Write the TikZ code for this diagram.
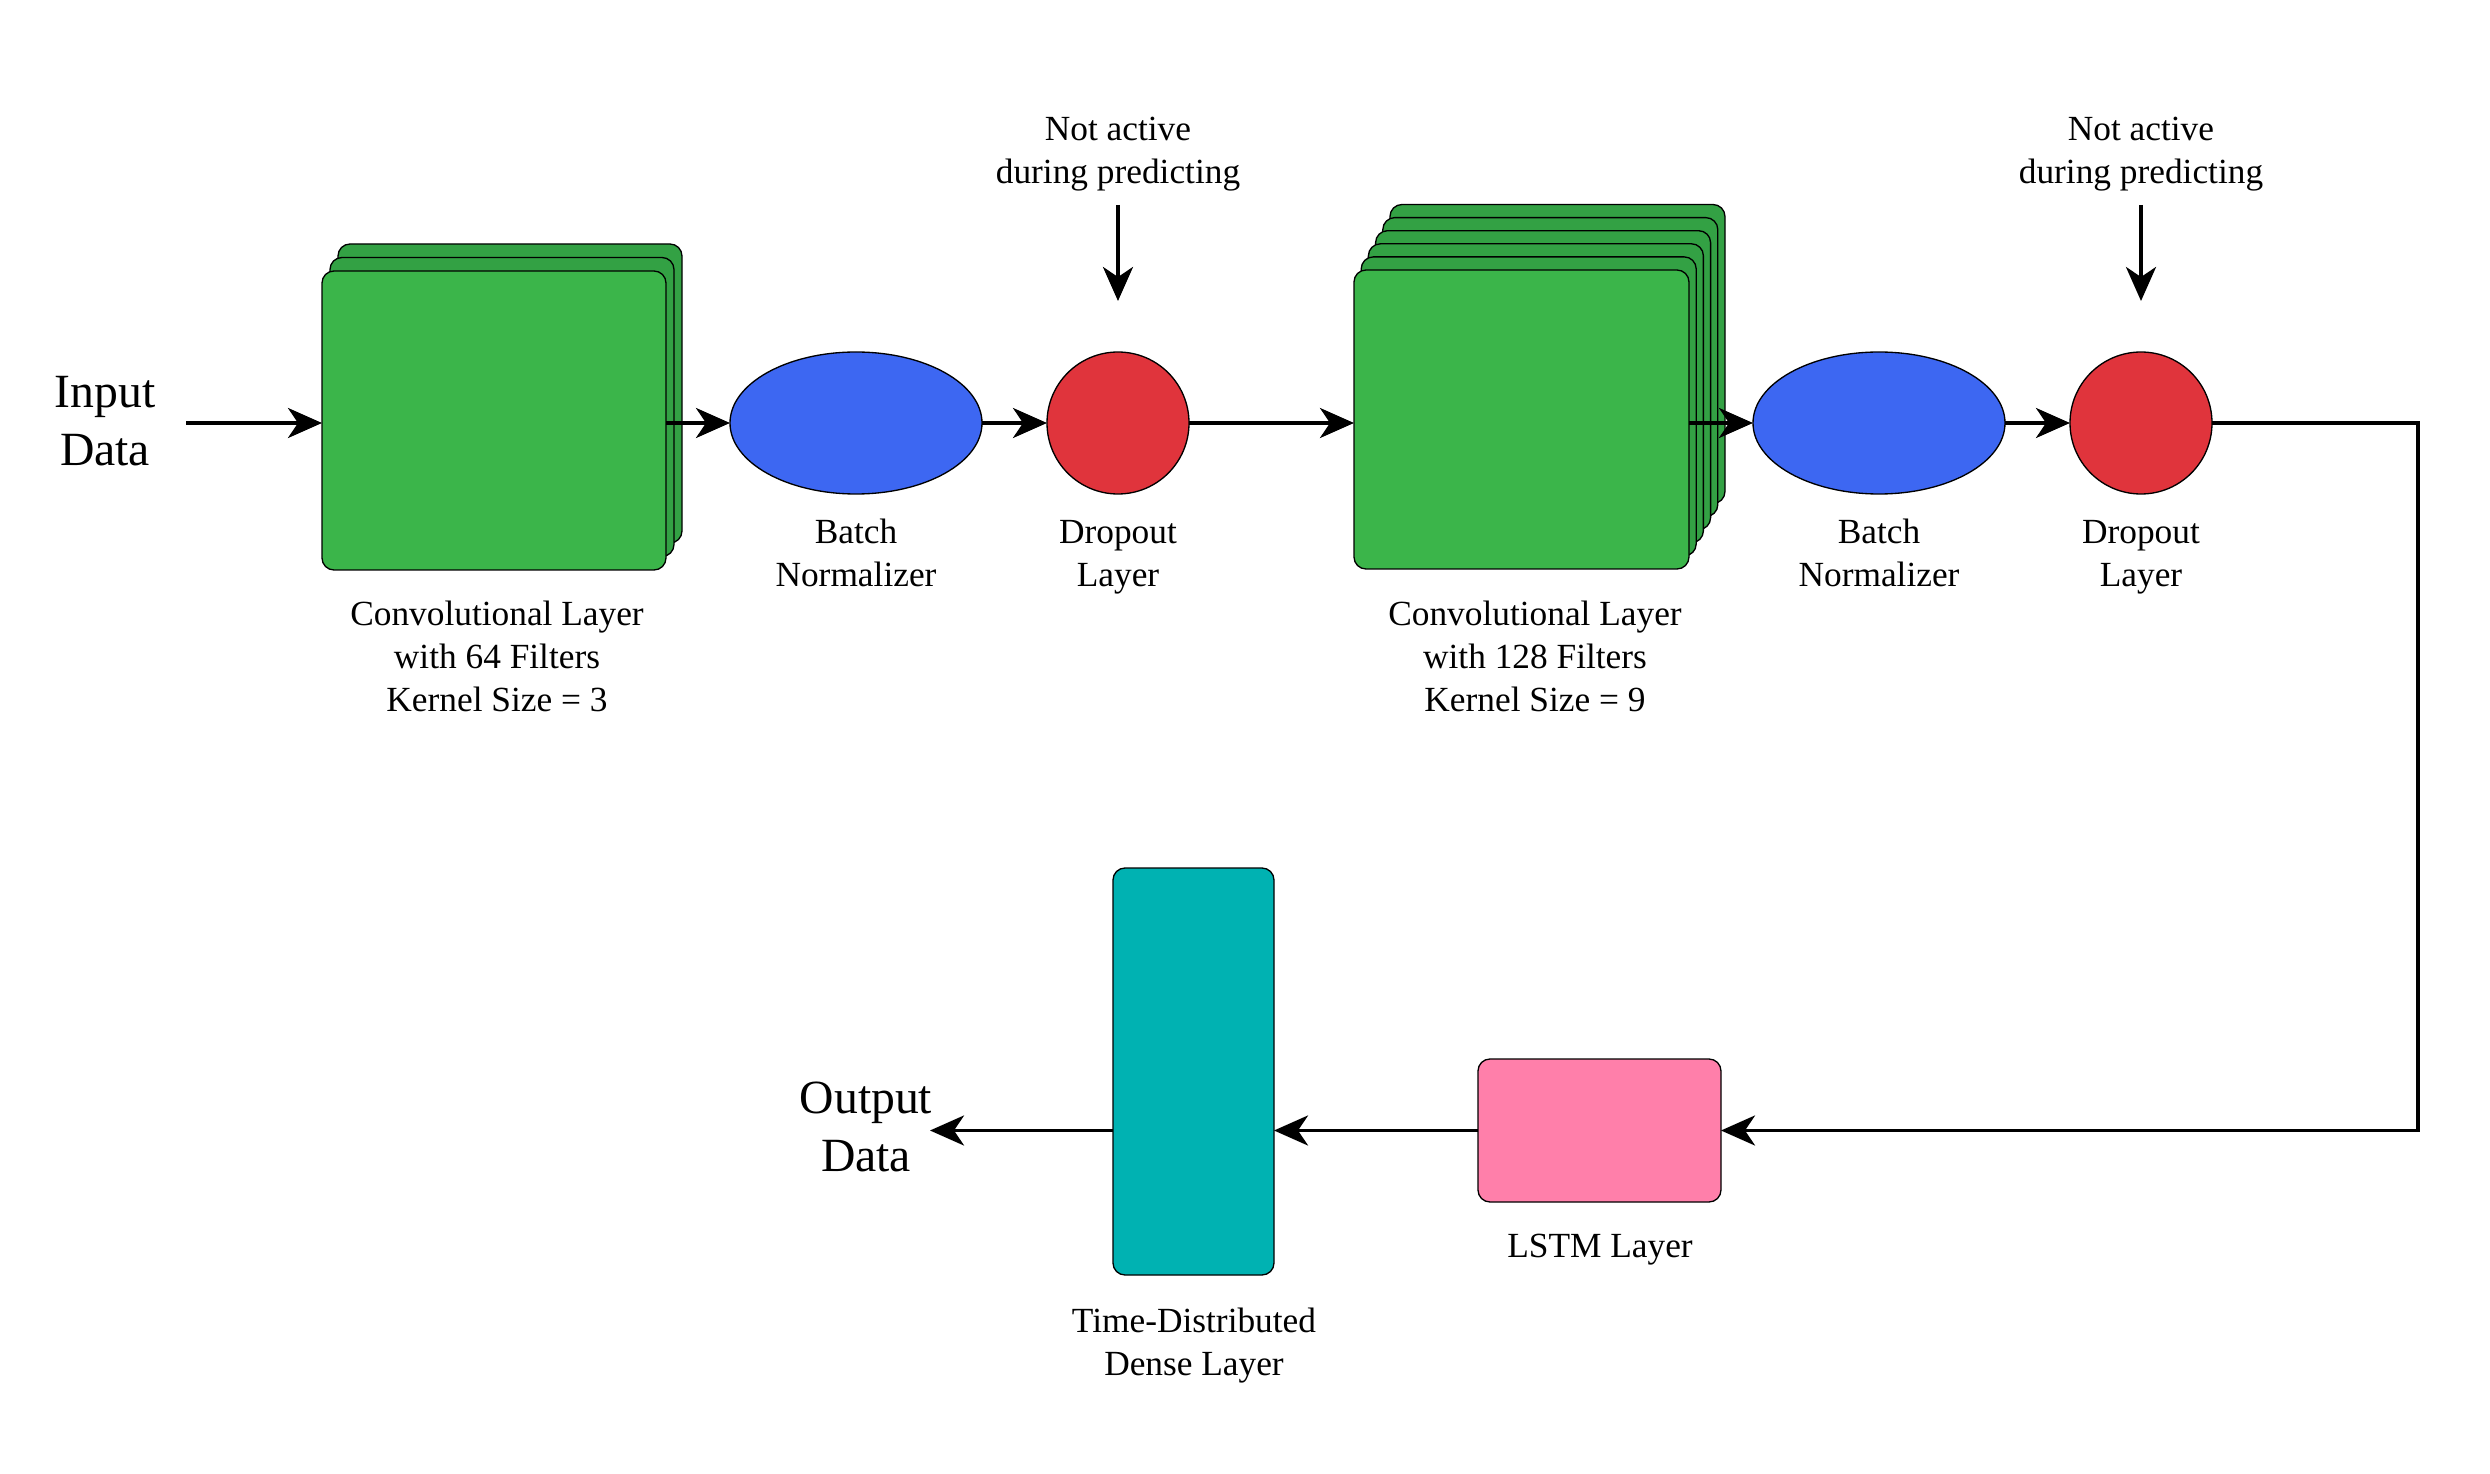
\documentclass[tikz,border=0pt]{standalone}
\usepackage{fontspec}
\setmainfont{Liberation Serif}
\usetikzlibrary{arrows.meta,shapes.geometric}
\definecolor{convfront}{RGB}{59,181,74}
\definecolor{convback}{RGB}{51,161,68}
\definecolor{bnblue}{RGB}{61,103,242}
\definecolor{dored}{RGB}{224,52,60}
\definecolor{denseteal}{RGB}{0,178,178}
\definecolor{lstmpink}{RGB}{255,127,170}
\newcommand\mylbl{\fontsize{10.6pt}{12.9pt}\selectfont}
\newcommand\mybig{\fontsize{14.3pt}{17.4pt}\selectfont}
\begin{document}
\begin{tikzpicture}[x=0.3pt,y=-0.3pt,
  lbl/.style={font=\mylbl, align=center, anchor=base, inner sep=0pt},
  big/.style={font=\mybig, align=center, anchor=base, inner sep=0pt},
  arr/.style={-{Stealth[length=10.2pt,width=9pt,inset=3pt]}, line width=1.1pt},
  layer/.style={draw=black, line width=0.4pt, rounded corners=3.6pt},
  convnode/.style={layer, fill=convfront, rectangle, inner sep=0pt, outer sep=0pt, minimum height=89.7pt},
  bnnode/.style={ellipse, draw=black, line width=0.4pt, fill=bnblue, inner sep=0pt, outer sep=0pt, minimum width=75.6pt, minimum height=42.6pt},
  donode/.style={circle, draw=black, line width=0.4pt, fill=dored, inner sep=0pt, outer sep=0pt, minimum size=42.6pt},
  boxnode/.style={layer, rectangle, inner sep=0pt, outer sep=0pt}
]
\useasboundingbox (0,0) rectangle (2490,1474);

% first convolutional stack
\draw[layer, fill=convback] (338,244) rectangle (682,543);
\draw[layer, fill=convback] (330,257.5) rectangle (674,556.5);
\node[convnode, minimum width=103.2pt] (conva) at (494,420.5) {};

% second convolutional stack
\foreach \k in {5,4,3,2,1} {
  \draw[layer, fill=convback] ({1354+7.2*\k},{270-13.1*\k}) rectangle ({1689+7.2*\k},{569-13.1*\k});
}
\node[convnode, minimum width=100.5pt] (convb) at (1521.5,419.5) {};

% ellipses and circles
\node[bnnode] (bna) at (856,423) {};
\node[donode] (doa) at (1118,423) {};
\node[bnnode] (bnb) at (1879,423) {};
\node[donode] (dob) at (2141,423) {};

% lower boxes
\node[boxnode, fill=denseteal, minimum width=48.3pt, minimum height=122.1pt] (dense) at (1193.5,1071.5) {};
\node[boxnode, fill=lstmpink, minimum width=72.9pt, minimum height=42.9pt] (lstm) at (1599.5,1130.5) {};

% labels (anchor = baseline of the last line)
\node[big] (inlbl) at (105,466) {Input\\Data};
\node[big] (outlbl) at (866,1171) {Output\\Data};
\node[lbl] (convalbl) at (497,712) {Convolutional Layer\\with 64 Filters\\Kernel Size = 3};
\node[lbl] (convblbl) at (1535,712) {Convolutional Layer\\with 128 Filters\\Kernel Size = 9};
\node[lbl] (bnalbl) at (856,587) {Batch\\Normalizer};
\node[lbl] (doalbl) at (1118,587) {Dropout\\Layer};
\node[lbl] (bnblbl) at (1879,587) {Batch\\Normalizer};
\node[lbl] (doblbl) at (2141,587) {Dropout\\Layer};
\node[lbl] (naa) at (1118,184) {Not active\\during predicting};
\node[lbl] (nab) at (2141,184) {Not active\\during predicting};
\node[lbl] (lstmlbl) at (1600,1257) {LSTM Layer};
\node[lbl] (denselbl) at (1194,1375) {Time-Distributed\\Dense Layer};

% free connector ends
\coordinate (inA) at (186,423);
\coordinate (outA) at (930,1130.5);
\coordinate (naaS) at (1118,205);
\coordinate (naaE) at (1118,301);
\coordinate (nabS) at (2141,205);
\coordinate (nabE) at (2141,301);
\coordinate (cornerA) at (2418,423);
\coordinate (cornerB) at (2418,1130.5);

% connectors
\draw[arr] (inA) -- (conva.west |- inA);
\draw[arr] (conva.east |- bna) -- (bna.west);
\draw[arr] (bna.east) -- (doa.west);
\draw[arr] (doa.east) -- (convb.west |- doa);
\draw[arr] (convb.east |- bnb) -- (bnb.west);
\draw[arr] (bnb.east) -- (dob.west);
\draw[arr] (dob.east) -- (cornerA) -- (cornerB) -- (lstm.east);
\draw[arr] (lstm.west) -- (dense.east |- lstm);
\draw[arr] (dense.west |- lstm) -- (outA);
\draw[arr] (naaS) -- (naaE);
\draw[arr] (nabS) -- (nabE);
\end{tikzpicture}
\end{document}
